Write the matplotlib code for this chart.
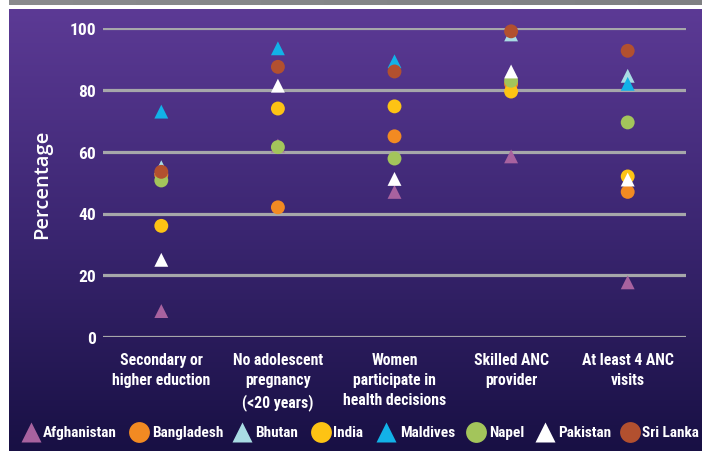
import numpy as np
import matplotlib
matplotlib.use("Agg")
import matplotlib.pyplot as plt
from matplotlib.lines import Line2D

# Indicators (x axis)
categories = [
    "Secondary or\nhigher eduction",
    "No adolescent\npregnancy\n(<20 years)",
    "Women\nparticipate in\nhealth decisions",
    "Skilled ANC\nprovider",
    "At least 4 ANC\nvisits",
]

countries = ["Afghanistan", "Bangladesh", "Bhutan", "India",
             "Maldives", "Napel", "Pakistan", "Sri Lanka"]

# Percentage per country for each indicator (nan = not reported)
afghanistan = [8.4, 62.0, 47.0, 58.5, 17.7]
bangladesh = [52.5, 42.0, 65.0, 82.0, 47.0]
bhutan = [55.0, np.nan, np.nan, 98.0, 84.6]
india = [36.0, 74.0, 74.7, 79.5, 52.0]
maldives = [73.0, 93.5, 89.3, np.nan, 82.0]
napel = [50.7, 61.5, 57.8, 83.0, 69.5]
pakistan = [25.0, 81.4, 51.2, 86.0, 51.0]
sri_lanka = [53.5, 87.5, 86.0, 99.0, 92.7]

yticks = [0, 20, 40, 60, 80, 100]

series = [afghanistan, bangladesh, bhutan, india, maldives, napel, pakistan, sri_lanka]
markers = ["^", "o", "^", "o", "^", "o", "^", "o"]
colors = ["#a8629f", "#f28a22", "#a9dce4", "#fdc314", "#12b2e8", "#a3c55b", "#ffffff", "#b2502f"]

COND = ["DejaVu Sans Condensed", "Liberation Sans Narrow", "Roboto Condensed",
        "Open Sans Condensed", "Roboto"]
W, H = 702, 452
fig = plt.figure(figsize=(W / 100, H / 100), dpi=100)
fig.patch.set_facecolor("white")

# grey header band
band = fig.add_axes([9 / W, 1 - 6 / H, 1 - 9 / W, 6 / H])
band.imshow(np.linspace(0, 1, 256)[None, :], aspect="auto", extent=[0, 1, 0, 1],
            cmap=matplotlib.colors.LinearSegmentedColormap.from_list("g", ["#8a8b8e", "#7f8083"]))
band.set_axis_off()

# purple gradient panel
bg = fig.add_axes([9 / W, 0, 1 - 9 / W, 1 - 10 / H])
grad = np.linspace(0, 1, 256)[:, None]
cmap = matplotlib.colors.LinearSegmentedColormap.from_list(
    "p", ["#5c3a95", "#3b2671", "#181044"])
bg.imshow(grad, aspect="auto", extent=[0, 1, 0, 1], cmap=cmap)
bg.set_axis_off()

ax = fig.add_axes([103 / W, 1 - 338 / H, 583 / W, 308.75 / H])
ax.set_facecolor("none")
ax.set_xlim(-0.5, len(categories) - 0.5)
ax.set_ylim(0, 100)
for s in ax.spines.values():
    s.set_visible(False)

ax.set_yticks(yticks)
ax.yaxis.grid(True, color="#a6a7aa", linewidth=2.3)
ax.set_axisbelow(True)
ax.tick_params(axis="both", length=0, colors="white")
ax.tick_params(axis="y", pad=5)
ax.tick_params(axis="x", pad=11)
for lab in ax.get_yticklabels():
    lab.set_fontfamily(COND)
    lab.set_fontstretch("condensed")
    lab.set_fontweight("bold")
    lab.set_fontsize(12.5)

x = np.arange(len(categories))
ax.set_xticks(x)
ax.set_xticklabels(categories, fontfamily=COND, fontstretch="condensed", fontweight="bold",
                   fontsize=11.3, color="white", linespacing=1.42, va="top")

for i, (name, vals) in enumerate(zip(countries, series)):
    ax.scatter(x, vals, marker=markers[i], s=100, color=colors[i],
               edgecolors="none", zorder=3 + i, clip_on=False)

fig.text(42 / W, 1 - 184 / H, "Percentage", rotation=90, ha="center", va="center",
         color="white", fontsize=14.5, fontweight="semibold",
         family=["Open Sans", "DejaVu Sans"])

# legend row: marker followed by its country name
marker_x = [31, 139, 242, 321, 386, 476, 545, 630]
text_x = [43, 152, 255, 333, 400, 489, 558, 642]
leg_y = 1 - 433 / H
for i, name in enumerate(countries):
    fig.add_artist(Line2D([marker_x[i] / W], [leg_y], linestyle="none",
                          marker=markers[i], markersize=15,
                          markerfacecolor=colors[i], markeredgecolor="none",
                          transform=fig.transFigure))
    fig.text(text_x[i] / W, leg_y, name, ha="left", va="center", color="white",
             family=COND, fontstretch="condensed", fontweight="bold", fontsize=11)

fig.savefig("out.png", dpi=100)
